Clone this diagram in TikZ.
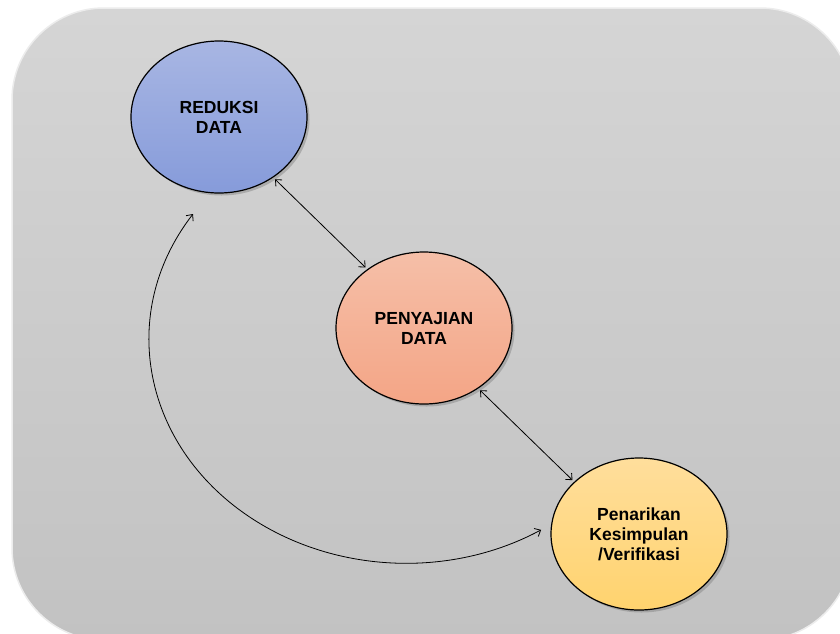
\documentclass[tikz,border=0pt]{standalone}
\usepackage{fontspec}
\setmainfont{Liberation Sans}
\usetikzlibrary{arrows.meta,shapes.geometric,shadows}
\definecolor{bgtop}{HTML}{D5D5D5}
\definecolor{bgbot}{HTML}{C2C2C2}
\definecolor{bluetop}{HTML}{A8B6E3}
\definecolor{bluebot}{HTML}{869BDA}
\definecolor{peachtop}{HTML}{F5BFA8}
\definecolor{peachbot}{HTML}{F4A586}
\definecolor{yeltop}{HTML}{FFDE9C}
\definecolor{yelbot}{HTML}{FFD36E}
\tikzset{
  bubble/.style={ellipse, draw=black, line width=1.2pt, minimum width=176pt, minimum height=152pt,
    inner sep=0pt, outer sep=3pt, align=center,
    font=\fontsize{17.5pt}{20pt}\selectfont\bfseries,
    drop shadow={opacity=0.45, shadow xshift=2.5pt, shadow yshift=-2.5pt}},
  dbl/.style={{Straight Barb[length=5pt,width=9pt]}-{Straight Barb[length=5pt,width=9pt]}, line width=0.8pt, black}
}
\begin{document}
\begin{tikzpicture}[x=1pt,y=-1pt]
\useasboundingbox (0,0) rectangle (840,633);
\fill[white] (0,0) rectangle (840,633);
\path[top color=bgtop, bottom color=bgbot, draw=white!85!gray, line width=1.5pt, rounded corners=92pt]
  (12,8) rectangle (852,640);
\node[bubble, top color=bluetop, bottom color=bluebot] (red) at (219,117) {REDUKSI\\DATA};
\node[bubble, top color=peachtop, bottom color=peachbot] (pen) at (424,328) {PENYAJIAN\\DATA};
\node[bubble, top color=yeltop, bottom color=yelbot] (pan) at (639,534) {Penarikan\\Kesimpulan\\/Verifikasi};
\draw[dbl] (red.-48) -- (pen.134);
\draw[dbl] (pen.-48) -- (pan.141);
\coordinate (c1) at (193,214);
\coordinate (c2) at (542,531);
\draw[dbl] (c1) arc[start angle=-146, end angle=-301.7, x radius=257, y radius=224];
\end{tikzpicture}
\end{document}
